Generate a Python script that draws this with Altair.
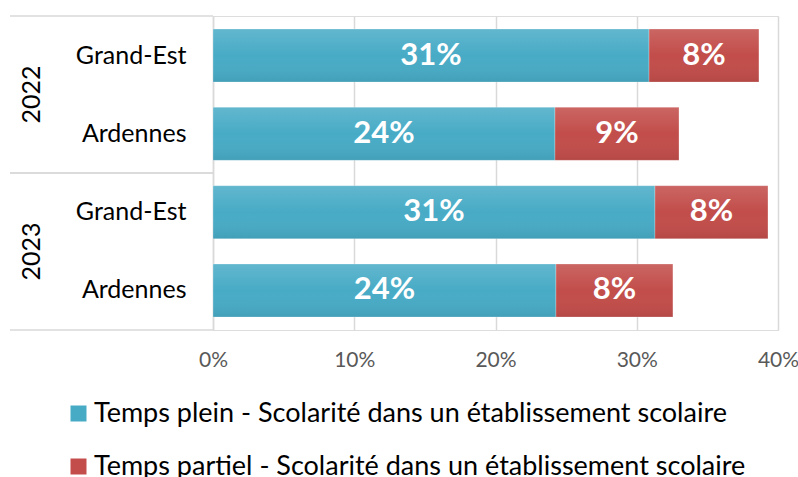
import altair as alt
import pandas as pd

years = ["2022", "2022", "2023", "2023"]
regions = ["Grand-Est", "Ardennes", "Grand-Est", "Ardennes"]
temps_plein = [0.3087, 0.2421, 0.3129, 0.2428]
temps_partiel = [0.0778, 0.0878, 0.0800, 0.0828]
series = [
    "Temps plein - Scolarité dans un établissement scolaire",
    "Temps partiel  - Scolarité dans un établissement scolaire",
]
colors = ["#48abc6", "#c24d4a"]
x_ticks = [0, 0.1, 0.2, 0.3, 0.4]
year_list = ["2022", "2023"]

rows = [f"{y}|{r}" for y, r in zip(years, regions)]
records = []
for i, row in enumerate(rows):
    for s_idx, vals in enumerate([temps_plein, temps_partiel]):
        records.append({"row": row, "year": years[i], "series": series[s_idx],
                        "order": s_idx, "value": vals[i]})
df = pd.DataFrame(records)
year_df = pd.DataFrame({"year": year_list})

FONT = "Lato"
GRID = "#d9d9d9"

base = alt.Chart(df).transform_stack(
    stack="value", groupby=["row"], as_=["x0", "x1"], sort=[alt.SortField("order")]
).transform_calculate(xm="(datum.x0 + datum.x1) / 2")

row_scale = alt.Scale(paddingInner=0.3234, paddingOuter=0.166)

y_enc = alt.Y(
    "row:N", sort=rows, scale=row_scale,
    axis=alt.Axis(
        title=None, labelExpr="split(datum.label, '|')[1]", labelFont=FONT,
        labelFontSize=25, labelColor="black", ticks=False, domain=True,
        domainColor=GRID, domainWidth=1.5, labelPadding=27, grid=False,
    ),
)
x_enc = alt.X(
    "x0:Q", scale=alt.Scale(domain=[0, 0.4], nice=False),
    axis=alt.Axis(
        title=None, format=".0%", values=x_ticks, grid=True, gridColor=GRID,
        gridWidth=1.5, domain=False, ticks=False, labelColor="#595959",
        labelFont=FONT, labelFontSize=21, labelPadding=19, labelFlush=False,
        labelOverlap=False,
    ),
)

bars = base.mark_bar(stroke="white", strokeOpacity=0.25, strokeWidth=1).encode(
    x=x_enc, x2="x1:Q", y=y_enc,
    color=alt.Color(
        "series:N", scale=alt.Scale(domain=series, range=colors),
        legend=alt.Legend(
            title=None, orient="none", legendX=-148, legendY=384,
            direction="vertical", symbolType="square", symbolSize=256,
            symbolStrokeWidth=0, labelFont=FONT, labelFontSize=27,
            labelColor="black", labelOffset=2, rowPadding=25, labelLimit=800,
        ),
    ),
)
sheen = base.mark_bar(
    fill=alt.Gradient(
        gradient="linear", x1=0, y1=0, x2=0, y2=1,
        stops=[
            alt.GradientStop(offset=0, color="rgba(255,255,255,0.14)"),
            alt.GradientStop(offset=0.5, color="rgba(255,255,255,0)"),
            alt.GradientStop(offset=1, color="rgba(0,0,0,0.07)"),
        ],
    )
).encode(x="x0:Q", x2="x1:Q", y=alt.Y("row:N", sort=rows))
texts = base.mark_text(
    color="white", font=FONT, fontWeight="bold", fontSize=31, baseline="middle",
    align="center",
).encode(x="xm:Q", y=alt.Y("row:N", sort=rows), text=alt.Text("value:Q", format=".0%"))

main = alt.layer(bars, sheen, texts)

year_scale = alt.Scale(paddingInner=0, paddingOuter=0)
year_text = alt.Chart(year_df).mark_text(
    angle=270, font=FONT, fontSize=25, color="black", baseline="middle", align="center"
).encode(
    y=alt.Y("year:N", sort=year_list, scale=year_scale, axis=None),
    x=alt.value(-181), text="year:N",
)
year_top = alt.Chart(year_df).mark_rule(color=GRID, strokeWidth=1.5).encode(
    y=alt.Y("year:N", sort=year_list, scale=year_scale, axis=None, bandPosition=0),
    x=alt.value(-203), x2=alt.value(0),
)
year_bot = alt.Chart(year_df).mark_rule(color=GRID, strokeWidth=1.5).encode(
    y=alt.Y("year:N", sort=year_list, scale=year_scale, axis=None, bandPosition=1),
    x=alt.value(-203), x2=alt.value(0),
)

chart = alt.layer(main, year_text, year_top, year_bot).resolve_scale(
    y="independent"
).properties(
    width=565, height=314,
    autosize=alt.AutoSizeParams(type="none"),
    padding={"left": 213, "top": 16, "right": 20, "bottom": 147},
).configure_view(stroke=None).configure(font=FONT)

chart.save("out.html", embed_options={"renderer": "svg", "actions": False})
